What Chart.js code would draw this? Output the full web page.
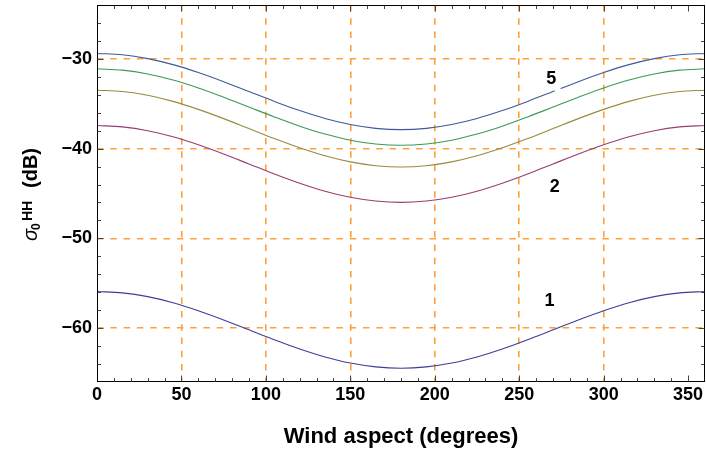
<!DOCTYPE html>
<html><head><meta charset="utf-8">
<script src="https://cdn.jsdelivr.net/npm/chart.js@4"></script>
<style>html,body{margin:0;padding:0;background:#fff}#wrap{width:706px;height:453px}</style>
</head><body><div id="wrap"><canvas id="c" width="706" height="453"></canvas></div>
<script>
const angles = [0,15,30,45,60,75,90,105,120,135,150,165,180,195,210,225,240,255,270,285,300,315,330,345,360];
const series1 = [-55.92,-56.07,-56.49,-57.17,-58.06,-59.09,-60.19,-61.29,-62.33,-63.21,-63.89,-64.31,-64.46,-64.31,-63.89,-63.21,-62.33,-61.29,-60.19,-59.09,-58.06,-57.17,-56.49,-56.07,-55.92];
const series2 = [-37.43,-37.58,-38.00,-38.68,-39.57,-40.60,-41.71,-42.82,-43.85,-44.74,-45.42,-45.84,-45.99,-45.84,-45.42,-44.74,-43.85,-42.82,-41.71,-40.60,-39.57,-38.68,-38.00,-37.58,-37.43];
const series3 = [-33.49,-33.64,-34.06,-34.74,-35.63,-36.66,-37.77,-38.88,-39.91,-40.80,-41.48,-41.90,-42.05,-41.90,-41.48,-40.80,-39.91,-38.88,-37.77,-36.66,-35.63,-34.74,-34.06,-33.64,-33.49];
const series4 = [-31.11,-31.26,-31.68,-32.36,-33.24,-34.27,-35.37,-36.47,-37.50,-38.38,-39.06,-39.48,-39.63,-39.48,-39.06,-38.38,-37.50,-36.47,-35.37,-34.27,-33.24,-32.36,-31.68,-31.26,-31.11];
const series5 = [-29.40,-29.54,-29.97,-30.64,-31.52,-32.54,-33.64,-34.74,-35.76,-36.64,-37.31,-37.74,-37.88,-37.74,-37.31,-36.64,-35.76,-34.74,-33.64,-32.54,-31.52,-30.64,-29.97,-29.54,-29.40];
const seriesNames = ['1','2','3','4','5'];
const xTickValues = [0,50,100,150,200,250,300,350];
const yTickValues = [-60,-50,-40,-30];
const xGridValues = [50,100,150,200,250,300];
const yGridValues = [-60,-50,-40,-30];
const curveLabels = ['5','2','1'];
const curveLabelX = [269,271,268];
const curveLabelY = [-32.3,-44.3,-57.0];
const gapRange = [271,274.5];

const colors = ['rgb(61,61,153)','rgb(153,61,113)','rgb(153,139,61)','rgb(61,153,86)','rgb(61,90,153)'];
const ORANGE = 'rgb(255,160,60)';
const FONT = '"Liberation Sans", Arial, Helvetica, sans-serif';
const allSeries = [series1,series2,series3,series4,series5];

function interp(series, x){
  for(let i=0;i<angles.length-1;i++){
    if(x>=angles[i] && x<=angles[i+1]){
      const t=(x-angles[i])/(angles[i+1]-angles[i]);
      return series[i]+(series[i+1]-series[i])*t;
    }
  }
  return series[series.length-1];
}

const decor = {
  id:'decor',
  afterDatasetsDraw(chart){
    const ctx=chart.ctx, a=chart.chartArea, xs=chart.scales.x, ys=chart.scales.y;
    ctx.save();
    // gap in series 5 next to its label
    ctx.strokeStyle='#fff'; ctx.lineWidth=4; ctx.beginPath();
    for(let x=gapRange[0]; x<=gapRange[1]+1e-9; x+=0.5){
      const px=xs.getPixelForValue(x), py=ys.getPixelForValue(interp(series5,x));
      if(x===gapRange[0]) ctx.moveTo(px,py); else ctx.lineTo(px,py);
    }
    ctx.stroke();
    // curve labels
    ctx.fillStyle='#000'; ctx.font='bold 18px '+FONT; ctx.textAlign='center'; ctx.textBaseline='middle';
    curveLabels.forEach((t,i)=>ctx.fillText(t, xs.getPixelForValue(curveLabelX[i]), ys.getPixelForValue(curveLabelY[i])));
    // frame
    const L=Math.round(a.left)+0.5, R=Math.round(a.right)-0.5, T=Math.round(a.top)+0.5, B=Math.round(a.bottom)-0.5;
    ctx.strokeStyle='#000'; ctx.lineWidth=1;
    ctx.strokeRect(L,T,R-L,B-T);
    // ticks
    ctx.strokeStyle='#444'; ctx.beginPath();
    for(let v=10; v<360; v+=10){
      const len = v%50===0 ? 6 : 3.5;
      const px=Math.round(xs.getPixelForValue(v))+0.5;
      ctx.moveTo(px,B); ctx.lineTo(px,B-len);
      ctx.moveTo(px,T); ctx.lineTo(px,T+len);
    }
    for(let v=-64; v>-66 && v<-24; v+=2){
      const len = v%10===0 ? 6 : 3.5;
      const py=Math.round(ys.getPixelForValue(v))+0.5;
      ctx.moveTo(L,py); ctx.lineTo(L+len,py);
      ctx.moveTo(R,py); ctx.lineTo(R-len,py);
    }
    ctx.stroke();
    // x title
    ctx.fillStyle='#000'; ctx.textBaseline='alphabetic'; ctx.textAlign='center';
    ctx.font='bold 22px '+FONT;
    ctx.fillText('Wind aspect (degrees)', (a.left+a.right)/2, 443);
    // y title
    ctx.translate(37,241); ctx.rotate(-Math.PI/2); ctx.textAlign='left';
    ctx.font='italic 20px '+FONT; ctx.fillText('σ',0,0);
    ctx.font='bold 12px '+FONT; ctx.fillText('0',11,3);
    ctx.font='bold 14px '+FONT; ctx.fillText('HH',20,-5);
    ctx.font='bold 20px '+FONT; ctx.fillText('(dB)',53,0);
    ctx.restore();
  }
};

new Chart(document.getElementById('c'), {
  type:'line',
  data:{
    datasets: allSeries.map((s,i)=>({
      label: seriesNames[i],
      data: angles.map((x,j)=>({x:x,y:s[j]})),
      borderColor: colors[i],
      borderWidth: 1.1,
      pointRadius: 0,
      fill:false,
      cubicInterpolationMode:'monotone'
    }))
  },
  options:{
    responsive:false, animation:false, devicePixelRatio:1,
    layout:{padding:{top:5,right:1,left:0,bottom:0}},
    plugins:{legend:{display:false}, tooltip:{enabled:false}},
    scales:{
      x:{
        type:'linear', min:0, max:360,
        afterBuildTicks:(s)=>{ s.ticks = xTickValues.map(v=>({value:v})); },
        afterFit:(s)=>{ s.height = 71; },
        grid:{ drawTicks:false, lineWidth:1.6,
          color:(c)=> (c.tick && xGridValues.includes(c.tick.value)) ? ORANGE : 'rgba(0,0,0,0)' },
        border:{ display:false, dash:[6.5,6.8] },
        ticks:{ padding:2, color:'#000', font:{family:FONT, size:18, weight:'bold'}, maxRotation:0, autoSkip:false,
          callback:(v)=>String(v) }
      },
      y:{
        type:'linear', min:-66, max:-24,
        afterBuildTicks:(s)=>{ s.ticks = yTickValues.map(v=>({value:v})); },
        afterFit:(s)=>{ s.width = 97; s.paddingTop = 0; s.paddingBottom = 0; },
        grid:{ drawTicks:false, lineWidth:1.6,
          color:(c)=> (c.tick && yGridValues.includes(c.tick.value)) ? ORANGE : 'rgba(0,0,0,0)' },
        border:{ display:false, dash:[6.5,6.8] },
        ticks:{ padding:5, color:'#000', font:{family:FONT, size:18, weight:'bold'}, autoSkip:false,
          callback:(v)=>String(v).replace('-','\u2212') }
      }
    }
  },
  plugins:[decor]
});
</script></body></html>
